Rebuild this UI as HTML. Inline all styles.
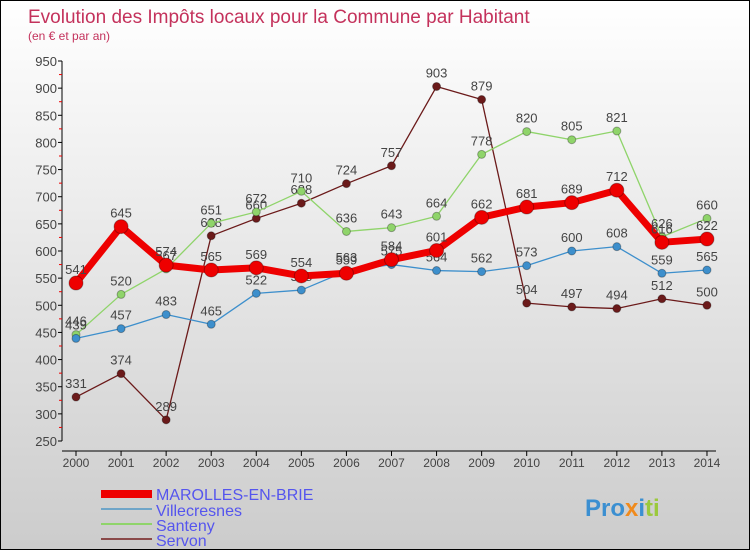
<!DOCTYPE html>
<html><head><meta charset="utf-8"><style>
body{margin:0}
#c{width:750px;height:550px;position:relative;overflow:hidden;box-sizing:border-box;border:1px solid #000;background:linear-gradient(#fff,#ccc);font-family:"Liberation Sans",sans-serif}
</style></head><body>
<div id="c">
<svg id="s" width="750" height="550" style="position:absolute;left:0;top:0">
<text x="27" y="22" font-size="19" fill="#c4325c">Evolution des Impôts locaux pour la Commune par Habitant</text>
<text x="27" y="39" font-size="12" fill="#c4325c">(en € et par an)</text>
<g id="ax"></g><g id="ser"></g>
<g font-size="16" fill="#5555ee">
<rect x="100" y="489" width="51" height="8" fill="#e00"/>
<text x="155" y="499">MAROLLES-EN-BRIE</text>
<rect x="100" y="507" width="51" height="2" fill="#6fa5c8"/>
<text x="155" y="515">Villecresnes</text>
<rect x="100" y="522" width="51" height="2" fill="#8fd46a"/>
<text x="155" y="530">Santeny</text>
<rect x="100" y="537" width="51" height="2" fill="#8a4a4a"/>
<text x="155" y="545">Servon</text>
</g>
<text x="584" y="515" font-size="24" font-weight="bold"><tspan fill="#3b8fd1">Pro</tspan><tspan fill="#f08a1c">x</tspan><tspan fill="#3b8fd1">i</tspan><tspan fill="#9bc93c">ti</tspan></text>
</svg>
</div>
<script>
const years=["2000","2001","2002","2003","2004","2005","2006","2007","2008","2009","2010","2011","2012","2013","2014"];
const yTicks=[250,300,350,400,450,500,550,600,650,700,750,800,850,900,950];
const marolles=[541,645,574,565,569,554,559,584,601,662,681,689,712,616,622];
const villecresnes=[439,457,483,465,522,528,563,575,564,562,573,600,608,559,565];
const santeny=[446,520,567,651,672,710,636,643,664,778,820,805,821,626,660];
const servon=[331,374,289,628,660,688,724,757,903,879,504,497,494,512,500];
const NS="http://www.w3.org/2000/svg";
const X=i=>75+i*45.07, Y=v=>440-(v-250)*380/700;
function mk(t,a,p){const e=document.createElementNS(NS,t);for(const k in a)e.setAttribute(k,a[k]);p.appendChild(e);return e;}
const ax=document.getElementById('ax'), ser=document.getElementById('ser');
const yl=mk('line',{x1:61,y1:60,x2:61,y2:440,stroke:'#000'},ax);


const xl=mk('line',{x1:61,y1:450,x2:715,y2:450,stroke:'#000'},ax);


yTicks.forEach((v,i)=>{
 mk('line',{x1:57,x2:61,y1:Y(v),y2:Y(v),stroke:'#000'},ax);
 if(i<yTicks.length-1) mk('line',{x1:58,x2:61,y1:Y(v+25),y2:Y(v+25),stroke:'#e00'},ax);
 const t=mk('text',{x:56,y:Y(v)+5,'text-anchor':'end','font-size':13,fill:'#444'},ax);t.textContent=v;
 
 
});
years.forEach((y,i)=>{
 mk('line',{x1:X(i),x2:X(i),y1:450,y2:455,stroke:'#000'},ax);
 const t=mk('text',{x:X(i),y:466,'text-anchor':'middle','font-size':12,fill:'#444'},ax);t.textContent=y;
 
 
});
function series(d,col,w,r,name){
 const g=mk('g',{},ser);
 
 
 const pl=mk('polyline',{points:d.map((v,i)=>X(i)+','+Y(v)).join(' '),fill:'none',stroke:col,'stroke-width':w,'stroke-linejoin':'round'},g);
 
 
 d.forEach((v,i)=>{
  const c=mk('circle',{cx:X(i),cy:Y(v),r:r,fill:col,stroke:'rgba(0,0,0,0.3)','stroke-width':1},g);
  
  
  const t=mk('text',{x:X(i),y:Y(v)-9,'text-anchor':'middle','font-size':13,fill:'#444'},g);t.textContent=v;
  
  
 });
}
series(servon,'#6b1a1a',1.3,4,'servon');
series(santeny,'#8fd46a',1.3,4,'santeny');
series(villecresnes,'#3d8fcc',1.3,4,'villecresnes');
series(marolles,'#ee0000',7,7,'marolles');
</script>
</body></html>
